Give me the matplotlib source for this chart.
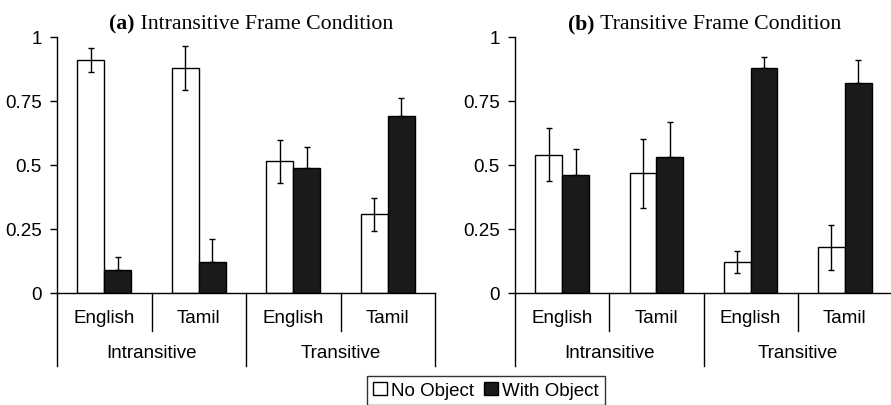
import numpy as np
import matplotlib.pyplot as plt

plt.rcParams['font.family'] = ['Liberation Sans', 'DejaVu Sans']

# data
langs = ['English', 'Tamil', 'English', 'Tamil']
frames = ['Intransitive', 'Transitive']
titles = [('(a)', ' Intransitive Frame Condition'), ('(b)', ' Transitive Frame Condition')]

no_obj_a = [0.909, 0.880, 0.514, 0.307]
with_obj_a = [0.091, 0.122, 0.488, 0.693]
no_obj_err_a = [0.047, 0.086, 0.084, 0.065]
with_obj_err_a = [0.048, 0.087, 0.084, 0.068]

no_obj_b = [0.541, 0.467, 0.120, 0.178]
with_obj_b = [0.459, 0.533, 0.880, 0.822]
no_obj_err_b = [0.105, 0.134, 0.043, 0.089]
with_obj_err_b = [0.104, 0.135, 0.042, 0.087]

fig = plt.figure(figsize=(8.91, 4.06), dpi=100)
W, H = 891, 406
ax_a = fig.add_axes([57 / W, 112 / H, 378 / W, 256 / H])
ax_b = fig.add_axes([515 / W, 112 / H, 377 / W, 256 / H])

panels = [
    (ax_a, no_obj_a, with_obj_a, no_obj_err_a, with_obj_err_a, titles[0], 0.1376),
    (ax_b, no_obj_b, with_obj_b, no_obj_err_b, with_obj_err_b, titles[1], 0.1406),
]

x = np.arange(4) + 0.5
bw = 0.285
ax_h = 256.0  # axes height in pixels
ekw = dict(ecolor='black', elinewidth=1, capsize=2.3, capthick=1)

for ax, no_obj, with_obj, e1, e2, (lab, ttl), tx in panels:
    ax.bar(x - bw / 2, no_obj, bw, color='white', edgecolor='black', linewidth=1,
           yerr=e1, error_kw=ekw, label='No Object', zorder=2)
    # lower half of the error bar is hidden inside the black bar
    ax.bar(x + bw / 2, with_obj, bw, color='#1a1a1a', edgecolor='black', linewidth=1,
           yerr=[np.zeros(len(e2)), e2], error_kw=ekw, label='With Object', zorder=2)
    ax.set_xlim(0, 4)
    ax.set_ylim(0, 1)
    ax.set_yticks([0, 0.25, 0.5, 0.75, 1])
    ax.set_yticklabels(['0', '0.25', '0.5', '0.75', '1'])
    ax.tick_params(axis='y', length=5, width=1, pad=6, labelsize=13.5, direction='out')
    ax.set_xticks([])
    for s in ['top', 'right']:
        ax.spines[s].set_visible(False)
    ax.spines['left'].set_linewidth(1)
    ax.spines['bottom'].set_linewidth(1)

    # hierarchical category axis
    trans = ax.get_xaxis_transform()
    for xi in [1, 3]:
        ax.plot([xi, xi], [0, -38 / ax_h], transform=trans, color='black', lw=1, clip_on=False)
    for xi in [0, 2, 4]:
        ax.plot([xi, xi], [0, -73 / ax_h], transform=trans, color='black', lw=1, clip_on=False)
    for xi, name in zip(x, langs):
        ax.text(xi, -25 / ax_h, name, transform=trans, ha='center', va='center', fontsize=13.5)
    for xi, name in zip([1, 3], frames):
        ax.text(xi, -60 / ax_h, name, transform=trans, ha='center', va='center', fontsize=13.5)

    # title with bold panel letter
    t1 = ax.text(tx, 1 + 14 / ax_h, lab, transform=ax.transAxes, ha='left', va='center',
                 fontsize=15.7, fontweight='bold', family='Liberation Serif')
    ax.annotate(ttl, xy=(1, 0), xycoords=t1, ha='left', va='bottom',
                fontsize=15.7, family='Liberation Serif')

handles, labels = ax_a.get_legend_handles_labels()
leg = fig.legend(handles, labels, loc='upper left', bbox_to_anchor=(367 / W, 1 - 377 / H),
                 ncol=2, frameon=True, fancybox=False, edgecolor='black', fontsize=13.5,
                 handlelength=0.75, handleheight=0.75, handletextpad=0.25, columnspacing=0.5,
                 borderpad=0.3, borderaxespad=0)
leg.get_frame().set_linewidth(1)

fig.savefig('out.png', dpi=100)
